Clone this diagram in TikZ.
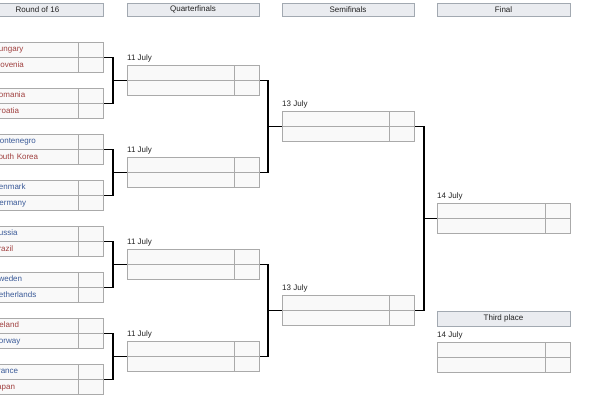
\documentclass[tikz,border=0pt]{standalone}
\usepackage{fontspec}
\setmainfont{Liberation Sans}
\usetikzlibrary{calc, positioning}
\usepackage{xcolor}

\definecolor{cellfill}{HTML}{F9F9F9}
\definecolor{cellline}{HTML}{AAAAAA}
\definecolor{headfill}{HTML}{EAECF0}
\definecolor{headline}{HTML}{A2A9B1}
\definecolor{redlink}{HTML}{A0403F}
\definecolor{bluelink}{HTML}{3A5A98}
\definecolor{ink}{HTML}{222222}

\begin{document}
\begin{tikzpicture}[x=1pt, y=-1pt,
    every node/.style={font=\fontsize{8}{9.6}\selectfont, text=ink},
    head/.style={draw=headline, fill=headfill, minimum height=13.5pt, inner sep=0pt},
    team/.style={draw=cellline, fill=cellfill, minimum height=15pt, inner xsep=3pt, inner ysep=0pt,
                 text height=6pt, text depth=1.5pt, align=left, anchor=north west},
    score/.style={draw=cellline, fill=cellfill, minimum width=25pt, minimum height=15pt,
                  inner sep=0pt, anchor=north west},
    date/.style={anchor=base west, inner sep=0pt, yshift=5pt},
    bracket/.style={draw=black, line width=1.6pt}]
  \useasboundingbox (0,0) rectangle (615,400);
  \clip (0,0) rectangle (615,400);

  % column headers
  \node[head, minimum width=131pt] (hr16) at (37.5,9.75) {Round of 16};
  \node[head, minimum width=132pt] (hqf) at (193,9.75) {Quarterfinals};
  \node[head, minimum width=132pt] (hsf) at (348,9.75) {Semifinals};
  \node[head, minimum width=133pt] (hfin) at (503.5,9.75) {Final};

  % round of 16
  \foreach \i/\ta/\ca/\tb/\cb in {0/Hungary/redlink/Slovenia/redlink,
      1/Romania/redlink/Croatia/redlink, 2/Montenegro/bluelink/South Korea/redlink,
      3/Denmark/bluelink/Germany/bluelink, 4/Russia/bluelink/Brazil/redlink,
      5/Sweden/bluelink/Netherlands/bluelink, 6/Iceland/redlink/Norway/bluelink,
      7/France/bluelink/Japan/redlink} {
    \node[team, text width=82pt] (rt\i) at (-10,{42+46*\i}) {\color{\ca}\ta};
    \node[score] (rts\i) at (rt\i.north east) {};
    \node[team, text width=82pt] (rb\i) at (rt\i.south west) {\color{\cb}\tb};
    \node[score] (rbs\i) at (rb\i.north east) {};
  }

  % quarterfinals
  \foreach \i in {0,...,3} {
    \node[team, text width=101pt] (qt\i) at (127,{65+92*\i}) {};
    \node[score] (qts\i) at (qt\i.north east) {};
    \node[team, text width=101pt] (qb\i) at (qt\i.south west) {};
    \node[score] (qbs\i) at (qb\i.north east) {};
    \node[date] (qd\i) at (qt\i.north west) {11 July};
  }

  % semifinals
  \foreach \i in {0,1} {
    \node[team, text width=101pt] (st\i) at (282,{111+184*\i}) {};
    \node[score] (sts\i) at (st\i.north east) {};
    \node[team, text width=101pt] (sb\i) at (st\i.south west) {};
    \node[score] (sbs\i) at (sb\i.north east) {};
    \node[date] (sd\i) at (st\i.north west) {13 July};
  }

  % final
  \node[team, text width=102pt] (ft) at (437,203) {};
  \node[score] (fts) at (ft.north east) {};
  \node[team, text width=102pt] (fb) at (ft.south west) {};
  \node[score] (fbs) at (fb.north east) {};
  \node[date] (fd) at (ft.north west) {14 July};

  % third place
  \node[head, minimum width=133pt, minimum height=15pt] (h3rd) at (503.5,318.5) {Third place};
  \node[team, text width=102pt] (tt) at (437,342) {};
  \node[score] (tts) at (tt.north east) {};
  \node[team, text width=102pt] (tb) at (tt.south west) {};
  \node[score] (tbs) at (tb.north east) {};
  \node[date] (td) at (tt.north west) {14 July};

  % brackets
  \foreach \i in {0,...,3} {
    \pgfmathtruncatemacro\ua{2*\i}
    \pgfmathtruncatemacro\ub{2*\i+1}
    \draw[bracket] (rts\ua.south east) -- ++(9,0) coordinate (jr\i) |- (rts\ub.south east);
    \draw[bracket] (jr\i |- qt\i.south west) -- (qt\i.south west);
  }
  \foreach \i in {0,1} {
    \pgfmathtruncatemacro\ua{2*\i}
    \pgfmathtruncatemacro\ub{2*\i+1}
    \draw[bracket] (qts\ua.south east) -- ++(8,0) coordinate (jq\i) |- (qts\ub.south east);
    \draw[bracket] (jq\i |- st\i.south west) -- (st\i.south west);
  }
  \draw[bracket] (sts0.south east) -- ++(9,0) coordinate (js) |- (sts1.south east);
  \draw[bracket] (js |- ft.south west) -- (ft.south west);
\end{tikzpicture}
\end{document}
